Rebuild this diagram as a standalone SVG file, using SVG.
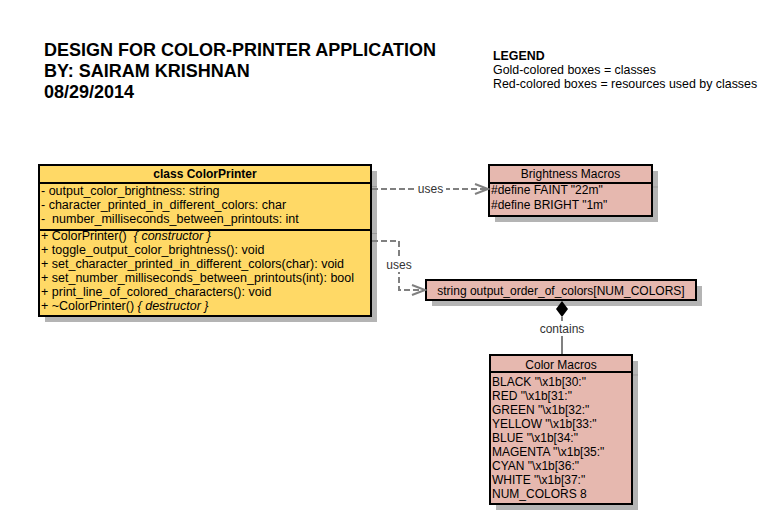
<svg xmlns="http://www.w3.org/2000/svg" width="778" height="525" viewBox="0 0 778 525">
<style>
text{font-family:"Liberation Sans",Arial,sans-serif;fill:#000;white-space:pre}
.t{font-size:18px;font-weight:bold}
.lg{font-size:12.4px}
.m{font-size:12px}
.c{font-size:12.5px}
.h{font-size:12px;text-anchor:middle}
.b{font-weight:bold}
.i{font-style:italic}
.gold{fill:#FFD966;stroke:#000;stroke-width:2}
.red{fill:#E6B8AF;stroke:#000;stroke-width:2}
.sh{fill:#B4B4B4}
.dv{stroke:#000;stroke-width:2}
.tk{stroke:#999;stroke-width:1}
.con{fill:none;stroke:#808080;stroke-width:2;stroke-dasharray:6,3}
.solid{fill:none;stroke:#808080;stroke-width:2}
.ah{fill:none;stroke:#808080;stroke-width:2}
.lbl{font-size:12px;text-anchor:middle;fill:#333}
</style>
<rect width="778" height="525" fill="#fff"/>
<g id="title">
<text class="t" x="44" y="56">DESIGN FOR COLOR-PRINTER APPLICATION</text>
<text class="t" x="44" y="77">BY: SAIRAM KRISHNAN</text>
<text class="t" x="44" y="98">08/29/2014</text>
</g>
<g id="legend">
<text class="lg b" x="493" y="60">LEGEND</text>
<text class="lg" x="493" y="74">Gold-colored boxes = classes</text>
<text class="lg" x="493" y="88">Red-colored boxes = resources used by classes</text>
</g>
<g id="colorprinter">
<rect class="sh" x="45" y="171" width="332" height="151"/>
<rect class="gold" x="39" y="165" width="332" height="151"/>
<line class="dv" x1="39" y1="183" x2="371" y2="183"/>
<line class="dv" x1="39" y1="230" x2="371" y2="230"/>
<line class="tk" x1="372" y1="186.5" x2="377" y2="186.5"/>
<line class="tk" x1="372" y1="233.5" x2="377" y2="233.5"/>
<text class="h b" x="205" y="178">class ColorPrinter</text>
<text class="c" x="41" y="195">- output_color_brightness: string</text>
<text class="c" x="41" y="209">- character_printed_in_different_colors: char</text>
<text class="c" x="41" y="223">-  number_milliseconds_between_printouts: int</text>
<text class="c" x="41" y="240">+ ColorPrinter()  <tspan class="i">{ constructor }</tspan></text>
<text class="c" x="41" y="254">+ toggle_output_color_brightness(): void</text>
<text class="c" x="41" y="268">+ set_character_printed_in_different_colors(char): void</text>
<text class="c" x="41" y="282">+ set_number_milliseconds_between_printouts(int): bool</text>
<text class="c" x="41" y="296">+ print_line_of_colored_characters(): void</text>
<text class="c" x="41" y="310">+ ~ColorPrinter() <tspan class="i">{ destructor }</tspan></text>
</g>
<g id="brightness">
<rect class="sh" x="495" y="171" width="163" height="51"/>
<rect class="red" x="489" y="165" width="163" height="51"/>
<line class="dv" x1="489" y1="183" x2="652" y2="183"/>
<line class="tk" x1="653" y1="187" x2="658" y2="187"/>
<text class="h" x="570.5" y="178">Brightness Macros</text>
<text class="m" x="491" y="194">#define FAINT "22m"</text>
<text class="m" x="491" y="209">#define BRIGHT "1m"</text>
</g>
<g id="outputorder">
<rect class="sh" x="432" y="286" width="270" height="20"/>
<rect class="red" x="426" y="280" width="270" height="20"/>
<text class="h" x="561" y="294.5">string output_order_of_colors[NUM_COLORS]</text>
</g>
<g id="colormacros">
<rect class="sh" x="496" y="361" width="142" height="149"/>
<rect class="red" x="490" y="355" width="142" height="149"/>
<line class="dv" x1="490" y1="372" x2="632" y2="372"/>
<line class="tk" x1="633" y1="375" x2="638" y2="375"/>
<text class="h" x="561" y="368.5">Color Macros</text>
<text class="m" x="492" y="386">BLACK "\x1b[30:"</text>
<text class="m" x="492" y="400">RED "\x1b[31:"</text>
<text class="m" x="492" y="414">GREEN "\x1b[32:"</text>
<text class="m" x="492" y="428">YELLOW "\x1b[33:"</text>
<text class="m" x="492" y="442">BLUE "\x1b[34:"</text>
<text class="m" x="492" y="456">MAGENTA "\x1b[35:"</text>
<text class="m" x="492" y="470">CYAN "\x1b[36:"</text>
<text class="m" x="492" y="484">WHITE "\x1b[37:"</text>
<text class="m" x="492" y="498">NUM_COLORS 8</text>
</g>
<g id="connectors">
<path class="con" d="M372,189 H488"/>
<rect x="415" y="182" width="31" height="14" fill="#fff"/>
<text class="lbl" x="430.5" y="193">uses</text>
<path class="ah" d="M475,184 L488,189 L475,194"/>
<path class="con" d="M372,241 H399 V290 H425"/>
<rect x="384" y="258" width="30" height="14" fill="#fff"/>
<text class="lbl" x="399" y="269">uses</text>
<path class="ah" d="M412,285 L425,290 L412,295"/>
<path d="M562,301 L568,309 L562,317 L556,309 Z" fill="#000"/>
<path class="solid" d="M562,317 V354"/>
<rect x="537" y="321" width="50" height="15" fill="#fff"/>
<text class="lbl" x="562" y="333">contains</text>
</g>
</svg>
